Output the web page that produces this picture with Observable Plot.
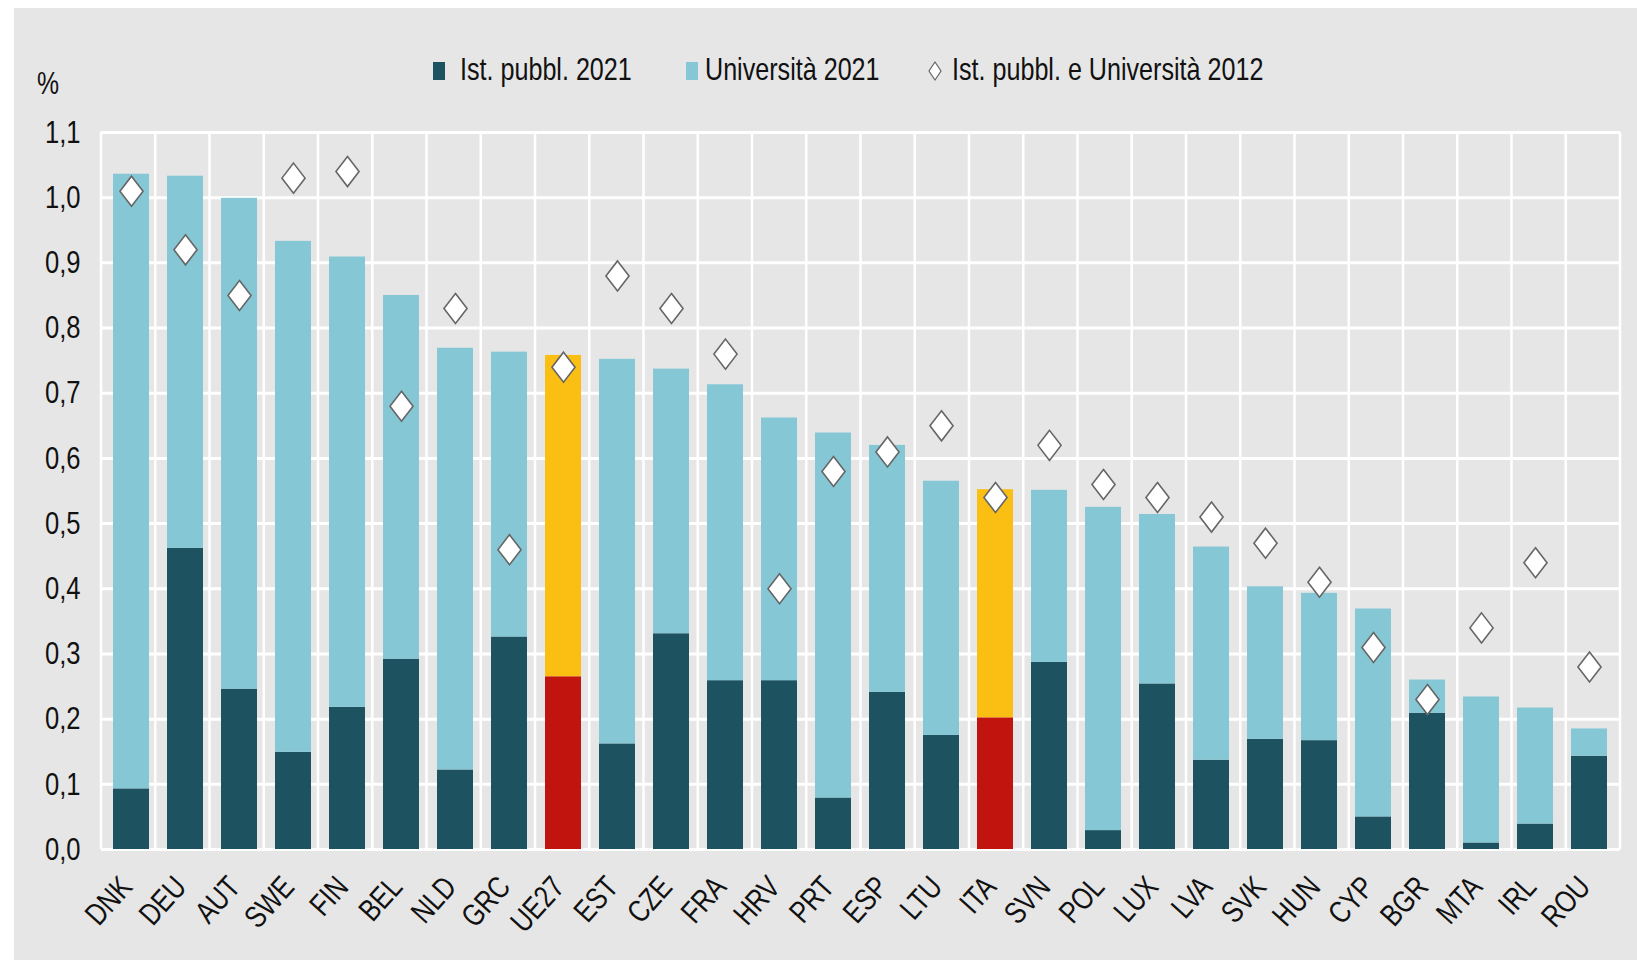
<!DOCTYPE html>
<html>
<head>
<meta charset="utf-8">
<script src="https://cdn.jsdelivr.net/npm/d3@7"></script>
<script src="https://cdn.jsdelivr.net/npm/@observablehq/plot@0.6"></script>
<style>
  html, body { margin: 0; padding: 0; background: #ffffff; }
  body { width: 1637px; height: 960px; overflow: hidden; position: relative;
         font-family: "Liberation Sans", Arial, sans-serif; }
  #panel { position: absolute; left: 14px; top: 8px; width: 1623px; height: 952px; background: #e6e6e6; }
  #header { position: relative; height: 92px; }
  #pct { position: absolute; left: 23px; top: 60px; font-size: 31px; line-height: 32px; color: #111;
         transform: scaleX(0.8); transform-origin: left center; }
  .lg { position: absolute; top: 45px; font-size: 32px; line-height: 32px; color: #111; white-space: nowrap;
        transform: scaleX(0.785); transform-origin: left center; }
  .sw { position: absolute; top: 54px; width: 12px; height: 18px; }
  .dia { position: absolute; top: 52px; }
  #chart svg { display: block; }
</style>
</head>
<body>
<div id="panel">
  <div id="header">
    <div id="pct">%</div>
  </div>
  <div id="chart"></div>
</div>
<script>
// ---- data ----
const countries = ["DNK","DEU","AUT","SWE","FIN","BEL","NLD","GRC","UE27","EST","CZE","FRA","HRV","PRT","ESP","LTU","ITA","SVN","POL","LUX","LVA","SVK","HUN","CYP","BGR","MTA","IRL","ROU"];
// Ist. pubbl. 2021 (bottom segment)
const istPubbl2021 = [0.093,0.462,0.246,0.149,0.218,0.292,0.122,0.326,0.265,0.162,0.331,0.259,0.259,0.079,0.241,0.175,0.202,0.287,0.029,0.254,0.137,0.169,0.167,0.050,0.209,0.010,0.039,0.143];
// Università 2021 (top segment)
const universita2021 = [0.943,0.571,0.753,0.784,0.691,0.558,0.647,0.437,0.493,0.590,0.406,0.454,0.403,0.560,0.379,0.390,0.350,0.264,0.496,0.260,0.327,0.234,0.226,0.319,0.051,0.224,0.178,0.042];
// Ist. pubbl. e Università 2012 (diamonds)
const total2012 = [1.01,0.92,0.85,1.03,1.04,0.68,0.83,0.46,0.74,0.88,0.83,0.76,0.40,0.58,0.61,0.65,0.54,0.62,0.56,0.54,0.51,0.47,0.41,0.31,0.23,0.34,0.44,0.28];
const yTicks = [0,0.1,0.2,0.3,0.4,0.5,0.6,0.7,0.8,0.9,1.0,1.1];
const highlighted = ["UE27","ITA"];
const seriesLabels = ["Ist. pubbl. 2021","Università 2021","Ist. pubbl. e Università 2012"];

// ---- styles ----
const C_DARK = "#1d5361", C_LIGHT = "#86c7d6", C_RED = "#c1140f", C_YELLOW = "#fabf12";
const C_BG = "#e6e6e6", C_GRID = "#ffffff", C_DIA_STROKE = "#666666";

// ---- table for the stacked bars ----
const rows = [];
countries.forEach((c, i) => {
  const hi = highlighted.includes(c);
  rows.push({country: c, series: seriesLabels[0], value: istPubbl2021[i], color: hi ? C_RED : C_DARK});
  rows.push({country: c, series: seriesLabels[1], value: universita2021[i], color: hi ? C_YELLOW : C_LIGHT});
});
const dots = countries.map((c, i) => ({country: c, value: total2012[i]}));

// tall diamond symbol
const tallDiamond = {
  draw(context, size) {
    const h = Math.sqrt(size / Math.PI);
    const w = h * 0.77;
    context.moveTo(0, -h);
    context.lineTo(w, 0);
    context.lineTo(0, h);
    context.lineTo(-w, 0);
    context.closePath();
  }
};

// vertical grid lines at band boundaries
function bandGrid(index, scales, values, dimensions) {
  const {width, marginLeft, marginRight, marginTop, height, marginBottom} = dimensions;
  const n = countries.length;
  const step = (width - marginLeft - marginRight) / n;
  const g = d3.create("svg:g");
  for (let i = 0; i <= n; i++) {
    const x = marginLeft + i * step;
    g.append("line").attr("x1", x).attr("x2", x)
      .attr("y1", marginTop).attr("y2", height - marginBottom)
      .attr("stroke", C_GRID).attr("stroke-width", 2.5);
  }
  return g.node();
}

const fmt = d => d3.format(".1f")(d).replace(".", ",");

const chart = Plot.plot({
  width: 1623,
  height: 860,
  marginLeft: 87,
  marginRight: 17,
  marginTop: 32,
  marginBottom: 111,
  style: {background: C_BG, fontFamily: '"Liberation Sans", Arial, sans-serif', color: "#111"},
  x: {domain: countries, paddingInner: 0.33, paddingOuter: 0.165, label: null},
  y: {domain: [0, 1.1], label: null},
  color: {type: "identity"},
  marks: [
    Plot.ruleY(yTicks, {stroke: C_GRID, strokeWidth: 3}),
    bandGrid,
    Plot.barY(rows, {x: "country", y: "value", fill: "color", z: "series", order: null}),
    Plot.dot(dots, {x: "country", y: "value", symbol: tallDiamond, r: 15, fill: "white", stroke: C_DIA_STROKE, strokeWidth: 1.6}),
    Plot.axisY(yTicks, {tickSize: 0, tickPadding: 21, tickFormat: fmt, fontSize: 32, label: null}),
    Plot.axisX({tickSize: 0, tickPadding: 32, dx: -5, tickRotate: -48, fontSize: 31, label: null})
  ]
});
document.getElementById("chart").appendChild(chart);

// condense tick labels horizontally (the reference uses a narrow face)
chart.querySelectorAll('g[aria-label="y-axis tick label"] text, g[aria-label="x-axis tick label"] text').forEach(t => {
  const tr = t.getAttribute("transform");
  if (tr) {
    t.setAttribute("transform", tr + " scale(0.8,1)");
  } else {
    const x = +t.getAttribute("x") || 0, y = +t.getAttribute("y") || 0;
    t.setAttribute("x", 0); t.setAttribute("y", 0);
    t.setAttribute("transform", `translate(${x},${y}) scale(0.8,1)`);
  }
});

// ---- legend ----
const header = d3.select("#header");
const legendItems = [
  {label: seriesLabels[0], kind: "sq", color: C_DARK, mark: 419, text: 446},
  {label: seriesLabels[1], kind: "sq", color: C_LIGHT, mark: 672, text: 691},
  {label: seriesLabels[2], kind: "dia", mark: 913, text: 938}
];
legendItems.forEach(d => {
  if (d.kind === "sq") {
    header.append("div").attr("class", "sw").style("left", d.mark + "px").style("background", d.color);
  } else {
    const s = header.append("svg").attr("class", "dia").style("left", d.mark + "px").attr("width", 16).attr("height", 22);
    s.append("path").attr("d", "M8,2L14,11L8,20L2,11Z").attr("fill", "white").attr("stroke", C_DIA_STROKE).attr("stroke-width", 1.2);
  }
  header.append("div").attr("class", "lg").style("left", d.text + "px").text(d.label);
});
</script>
</body>
</html>
